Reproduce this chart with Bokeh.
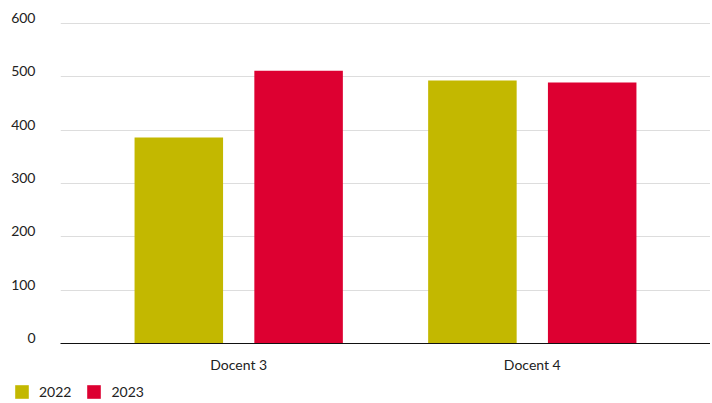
from bokeh.plotting import figure
from bokeh.models import (ColumnDataSource, FactorRange, Range1d, Legend, LegendItem,
                          FixedTicker, LinearAxis)
from bokeh.transform import dodge
from bokeh.embed import file_html
from bokeh.resources import INLINE

categories = ["Docent 3", "Docent 4"]
series_names = ["2022", "2023"]
values_2022 = [386, 493]
values_2023 = [511, 489]
y_ticks = [0, 100, 200, 300, 400, 500, 600]
y_tick_labels = ["0", "100", "200", "300", "400", "500", "600"]

COL_2022 = "#C3B800"
COL_2023 = "#DD0031"
FONT = "Lato"
TXT = "#222222"

src = ColumnDataSource(dict(cat=categories, v2022=values_2022, v2023=values_2023))

# frame reaches a little above the 600 grid line so the shifted label range still contains 600
p = figure(width=710, height=380, output_backend="svg", toolbar_location=None,
           x_range=FactorRange(factors=categories, range_padding=0.107),
           y_range=Range1d(0, 611))
p.min_border_left = 60
p.min_border_right = 0
p.min_border_top = 17
p.min_border_bottom = 37
p.outline_line_color = None
p.background_fill_color = "white"
p.border_fill_color = "white"

r1 = p.vbar(x=dodge("cat", -0.204, range=p.x_range), top="v2022", width=0.3015,
            source=src, color=COL_2022, line_color=None)
r2 = p.vbar(x=dodge("cat", 0.204, range=p.x_range), top="v2023", width=0.3015,
            source=src, color=COL_2023, line_color=None)

# x axis
p.xaxis.axis_line_color = "#111111"
p.xaxis.axis_line_width = 1
p.xaxis.major_tick_line_color = None
p.xaxis.minor_tick_line_color = None
p.xaxis.major_label_text_font = FONT
p.xaxis.major_label_text_font_size = "14px"
p.xaxis.major_label_text_color = TXT
p.xaxis.major_label_standoff = 6
p.xgrid.grid_line_color = None

# grid follows the main y range
orig_y = p.yaxis[0]
orig_y.ticker = FixedTicker(ticks=y_ticks)
orig_y.visible = False
p.ygrid.ticker = FixedTicker(ticks=y_ticks)
p.ygrid.grid_line_color = "#dddddd"
p.ygrid.grid_line_width = 1

# y tick labels: range nudged so each label sits just above its grid line
p.extra_y_ranges = {"labels": Range1d(-10, 601)}
ylab = LinearAxis(y_range_name="labels", ticker=FixedTicker(ticks=y_ticks))
ylab.major_label_overrides = {t: s for t, s in zip(y_ticks, y_tick_labels)}
ylab.axis_line_color = None
ylab.major_tick_line_color = None
ylab.minor_tick_line_color = None
ylab.major_label_standoff = 19
ylab.major_label_text_align = "left"
ylab.major_label_text_baseline = "alphabetic"
ylab.major_label_text_font = FONT
ylab.major_label_text_font_size = "14px"
ylab.major_label_text_color = TXT
p.add_layout(ylab, "left")

# legend strip below the chart (separate root so its frame starts at the left edge)
leg = figure(width=710, height=23, output_backend="svg", toolbar_location=None,
             x_range=p.x_range, y_range=Range1d(-1000, -999),
             x_axis_type=None, y_axis_type=None, min_border=0)
leg.outline_line_color = None
leg.grid.grid_line_color = None
l1 = leg.vbar(x=dodge("cat", -0.204, range=p.x_range), top="v2022", width=0.3015,
              source=src, color=COL_2022, line_color=None)
l2 = leg.vbar(x=dodge("cat", 0.204, range=p.x_range), top="v2023", width=0.3015,
              source=src, color=COL_2023, line_color=None)
l1.visible = False
l2.visible = False
legend = Legend(items=[LegendItem(label=series_names[0], renderers=[l1]),
                       LegendItem(label=series_names[1], renderers=[l2])],
                location=(13, 3), orientation="horizontal",
                glyph_width=17, glyph_height=17, label_height=17,
                label_standoff=9, spacing=14, padding=0, margin=0,
                border_line_color=None, background_fill_alpha=0,
                label_text_font=FONT, label_text_font_size="14px",
                label_text_color=TXT)
leg.add_layout(legend)

open("out.html", "w").write(file_html([p, leg], INLINE))
